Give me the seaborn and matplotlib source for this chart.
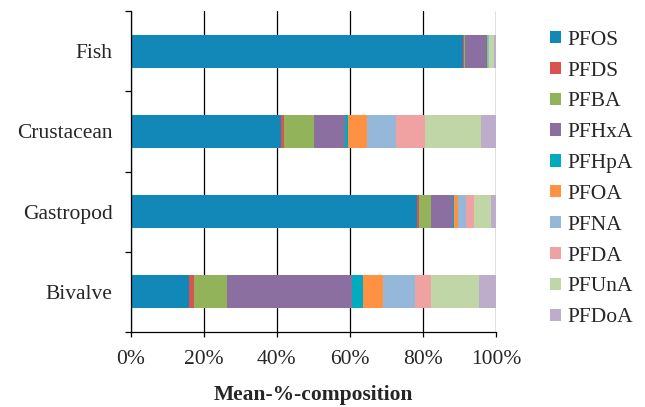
import numpy as np
import pandas as pd
import matplotlib
matplotlib.use("Agg")
import matplotlib.pyplot as plt
from matplotlib.patches import Patch
import seaborn as sns

# mean % composition per organism group
groups = ["Fish", "Crustacean", "Gastropod", "Bivalve"]
compounds = ["PFOS", "PFDS", "PFBA", "PFHxA", "PFHpA", "PFOA", "PFNA", "PFDA", "PFUnA", "PFDoA"]

pfos = [90.8, 41.1, 78.4, 15.9]
pfds = [0.3, 0.9, 0.5, 1.5]
pfba = [0.4, 8.2, 3.3, 9.0]
pfhxa = [5.7, 8.3, 6.0, 34.3]
pfhpa = [0.2, 1.0, 0.5, 2.9]
pfoa = [0.3, 5.2, 1.1, 5.5]
pfna = [0.2, 7.9, 2.0, 8.8]
pfda = [0.2, 7.9, 2.2, 4.4]
pfuna = [1.3, 15.3, 4.7, 13.1]
pfdoa = [0.5, 4.1, 1.4, 4.7]

colors = ["#1288B8", "#D9534F", "#93B35B", "#8B6FA0", "#00AABF",
          "#FF9143", "#95B8DA", "#F0A2A2", "#C1D6A6", "#BDADCB"]

sns.set_style("white")
plt.rcParams["font.family"] = ["Liberation Serif", "DejaVu Serif"]
plt.rcParams["font.size"] = 15.5

df = pd.DataFrame([pfos, pfds, pfba, pfhxa, pfhpa, pfoa, pfna, pfda, pfuna, pfdoa],
                  index=compounds, columns=groups).T
df = df.div(df.sum(axis=1), axis=0) * 100
cum = df.cumsum(axis=1)

fig = plt.figure(figsize=(6.45, 4.07), dpi=100)
ax = fig.add_axes([130.5 / 645, 1 - 332 / 407, (496 - 130.5) / 645, (332 - 11) / 407])

# overlay cumulative bars from the last compound to the first
for comp, col in zip(compounds[::-1], colors[::-1]):
    sns.barplot(x=cum[comp].values, y=groups, orient="h", color=col,
                saturation=1, width=0.41, linewidth=0, ax=ax)

ax.set_xlim(0, 100)
ax.set_ylim(3.5, -0.5)
ax.set_xticks(np.arange(0, 101, 20))
ax.set_xticklabels([f"{v}%" for v in range(0, 101, 20)])
ax.xaxis.grid(True, color="black", linewidth=0.9)
for bar in ax.patches:
    bar.set_zorder(1)
for gl in ax.get_xgridlines():
    gl.set_zorder(0.5)

ax.set_yticks(range(4))
ax.set_yticklabels(groups)
ax.set_yticks([-0.5, 0.5, 1.5, 2.5, 3.5], minor=True)
ax.tick_params(axis="y", which="major", length=0, pad=13, labelsize=15.5)
ax.tick_params(axis="y", which="minor", length=4.3, width=0.9, color="black", left=True)
ax.tick_params(axis="x", length=3.6, width=0.9, color="black", pad=9, labelsize=15.5, bottom=True)

for s in ["top", "right"]:
    ax.spines[s].set_visible(False)
for s in ["left", "bottom"]:
    ax.spines[s].set_color("black")
    ax.spines[s].set_linewidth(0.9)

ax.set_ylabel("")
ax.set_xlabel("Mean-%-composition", fontweight="bold", fontsize=15.5, labelpad=12)

handles = [Patch(facecolor=c, edgecolor="none", label=n) for c, n in zip(colors, compounds)]
fig.legend(handles=handles, loc="center left", bbox_to_anchor=(550 / 645, 1 - 179 / 407),
           frameon=False, fontsize=15.5, handlelength=0.5, handleheight=0.5,
           handletextpad=0.3, labelspacing=0.55, borderpad=0, borderaxespad=0)

fig.savefig("out.png", dpi=100)
